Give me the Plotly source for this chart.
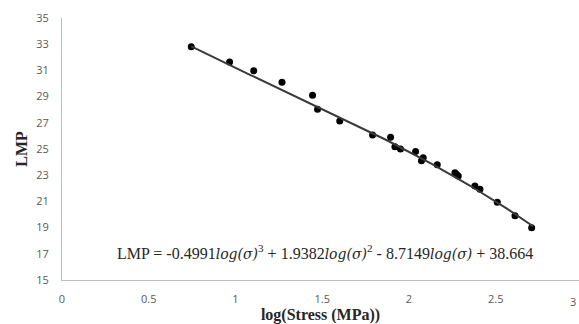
import plotly.graph_objects as go
import numpy as np

log_stress = [0.745, 0.966, 1.105, 1.268, 1.444, 1.473, 1.601, 1.790, 1.894, 1.919,
              1.951, 2.038, 2.072, 2.082, 2.163, 2.265, 2.275, 2.284, 2.380, 2.409,
              2.509, 2.611, 2.707]
lmp = [32.8, 31.65, 30.97, 30.1, 29.1, 28.03, 27.14, 26.07, 25.9, 25.18,
       25.0, 24.8, 24.1, 24.34, 23.8, 23.19, 23.05, 22.94, 22.18, 21.92,
       20.93, 19.91, 18.99]

coef = [-0.4991, 1.9382, -8.7149, 38.664]
xfit = np.linspace(min(log_stress), max(log_stress) + 0.01, 100)
yfit = np.polyval(coef, xfit) - 0.2

y_ticks = list(range(15, 36, 2))
x_ticks = [0, 0.5, 1, 1.5, 2, 2.5]

fig = go.Figure()
fig.add_trace(go.Scatter(x=log_stress, y=lmp, mode="markers",
                         marker=dict(color="black", size=7), showlegend=False))
fig.add_trace(go.Scatter(x=xfit, y=yfit, mode="lines",
                         line=dict(color="#3a3a3a", width=2), showlegend=False))

lg = '<span style="font-family:DejaVu Serif;font-style:italic;font-size:14px">log(σ)</span>'
eq = ("LMP = -0.4991" + lg + "<sup>3</sup> + 1.9382" + lg + "<sup>2</sup>"
      " - 8.7149" + lg + " + 38.664")
fig.add_annotation(x=1.516, y=17.15, xref="x", yref="y", text=eq, showarrow=False,
                   font=dict(family="Liberation Serif", size=16, color="#262626"))
fig.add_annotation(x=0.9985, y=0, xref="paper", yref="paper", yanchor="top", yshift=-12,
                   text="3", showarrow=False,
                   font=dict(family="Open Sans", size=11, color="#595959"))

fig.update_layout(
    width=579, height=324,
    margin=dict(l=62, r=0, t=18, b=44),
    plot_bgcolor="white", paper_bgcolor="white",
    xaxis=dict(range=[0, 2.98], tickvals=x_ticks, ticktext=[str(v) for v in x_ticks],
               showgrid=False, zeroline=False, showline=True, linecolor="#bfbfbf", linewidth=1,
               ticks="", ticklabelstandoff=9,
               tickfont=dict(family="Open Sans", size=11, color="#595959"),
               title=dict(text="<b>log(Stress (MPa))</b>", standoff=5,
                          font=dict(family="Liberation Serif", size=16, color="#262626"))),
    yaxis=dict(range=[15, 35], tickvals=y_ticks,
               showgrid=False, zeroline=False, showline=True, linecolor="#bfbfbf", linewidth=1,
               ticks="", ticklabelstandoff=10,
               tickfont=dict(family="Open Sans", size=11, color="#595959"),
               title=dict(text="<b>LMP</b>", standoff=4,
                          font=dict(family="Liberation Serif", size=16, color="#262626"))),
)
fig.write_html("out.html")
